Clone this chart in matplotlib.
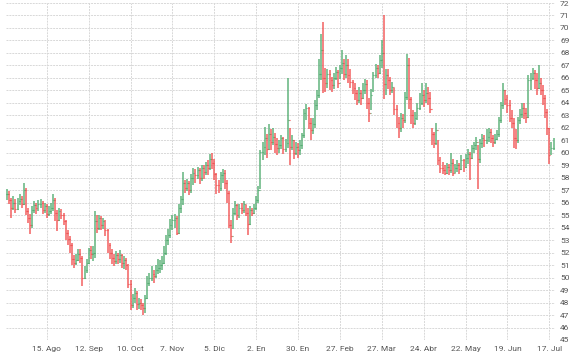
import numpy as np
import matplotlib
matplotlib.use("Agg")
import matplotlib.pyplot as plt

closes = [
    56.7, 56.2, 55.6, 56.0, 55.5,  56.1, 56.3, 55.9, 57.0, 55.3,
    54.8, 54.2, 55.4, 55.8, 55.6,  55.9, 56.0, 55.4, 55.7, 55.1,
    55.3, 55.6, 56.2, 55.2, 54.6,  55.3, 55.0, 54.5, 53.6, 53.1,
    52.6, 51.5, 51.2, 51.4, 51.9,  51.6, 50.0, 50.6, 51.2, 52.2,
    51.9, 52.0, 54.5, 54.0, 54.8,  54.2, 54.5, 53.8, 52.6, 52.0,
    51.6, 51.3, 51.8, 51.5, 51.8,  51.2, 51.4, 51.0, 49.5, 47.8,
    48.4, 48.8, 47.9, 48.0, 47.8,  47.6, 48.4, 49.6, 50.0, 50.3,
    50.1, 50.6, 50.8, 51.0, 51.2,  52.0, 53.0, 53.4, 54.2, 54.6,
    54.8, 53.6, 55.6, 56.3, 57.6,  57.2, 57.6, 57.0, 58.0, 58.4,
    58.2, 58.6, 58.0, 58.8, 58.5,  59.0, 58.8, 59.5, 59.2, 58.3,
    57.4, 57.2, 58.2, 58.4, 57.6,  56.8, 54.2, 53.3, 55.2, 55.8,
    55.0, 55.6, 55.4, 55.9, 55.2,  54.3, 55.4, 55.2, 55.6, 56.2,
    57.0, 60.1, 60.5, 61.2, 60.3,  61.5, 60.9, 61.3, 60.7, 60.4,
    60.6, 61.2, 60.3, 60.8, 62.6,  60.5, 61.0, 60.0, 60.5, 60.2,
    60.6, 61.4, 63.2, 63.6, 62.4,  61.8, 62.3, 63.8, 64.6, 66.3,
    68.2, 66.0, 65.6, 66.3, 65.8,  65.4, 66.0, 66.5, 65.6, 66.8,
    67.2, 66.3, 67.0, 66.2, 65.7,  65.2, 64.8, 64.2, 64.8, 64.4,
    65.0, 65.5, 64.0, 63.2, 64.6,  66.2, 66.8, 66.4, 67.4, 68.0,
    65.5, 66.2, 65.8, 65.0, 65.3,  63.5, 62.4, 62.0, 62.8, 62.6,
    64.5, 67.0, 64.3, 63.0, 62.4,  62.8, 63.6, 64.0, 64.6, 64.2,
    64.8, 64.4, 63.5, 61.5, 60.8,  61.8, 59.4, 58.8, 58.6, 58.4,
    58.9, 58.6, 59.2, 58.4, 58.8,  59.0, 58.7, 59.4, 58.9, 59.6,
    59.9, 59.6, 60.4, 60.6, 60.9,  59.5, 60.8, 61.2, 61.0, 61.3,
    61.7, 61.2, 60.9, 61.1, 61.5,  62.6, 63.8, 65.0, 64.3, 63.8,
    62.8, 62.4, 61.2, 61.0, 62.6,  63.1, 63.6, 63.2, 62.9, 65.8,
    66.0, 66.4, 65.8, 65.2, 65.6,  65.0, 64.4, 63.3, 62.0, 59.8,
    60.4, 61.0,
]
highs = [
    57.1, 56.9, 56.4, 56.5, 56.3,  56.4, 56.7, 56.5, 57.6, 57.2,
    55.6, 55.1, 55.7, 56.1, 56.0,  56.2, 56.3, 56.1, 56.0, 55.9,
    55.7, 56.0, 56.7, 56.4, 55.4,  55.6, 55.5, 55.2, 54.6, 53.8,
    53.3, 52.8, 51.8, 51.9, 52.3,  52.3, 51.7, 50.9, 51.5, 52.4,
    52.5, 52.5, 55.3, 55.0, 55.0,  54.9, 54.8, 54.6, 53.9, 52.8,
    52.3, 51.9, 52.1, 52.0, 52.2,  51.9, 51.7, 51.6, 51.1, 49.8,
    48.7, 49.2, 48.9, 48.4, 48.3,  48.0, 48.6, 50.1, 50.4, 50.9,
    50.6, 51.0, 51.5, 51.4, 51.7,  52.5, 53.4, 53.9, 54.7, 55.0,
    55.1, 54.9, 55.9, 56.5, 58.5,  57.8, 57.9, 57.7, 58.3, 58.8,
    58.7, 58.9, 58.8, 59.0, 59.0,  59.3, 59.4, 59.9, 60.0, 59.5,
    58.4, 57.8, 58.5, 58.7, 58.6,  57.8, 56.9, 54.6, 55.6, 56.1,
    55.9, 55.9, 56.0, 56.1, 55.8,  55.6, 55.7, 55.6, 55.9, 56.5,
    57.3, 60.2, 60.9, 62.1, 61.5,  62.3, 61.9, 62.0, 61.6, 61.2,
    61.0, 61.4, 61.3, 61.1, 66.0,  62.0, 61.4, 61.0, 60.9, 60.8,
    61.0, 61.6, 63.5, 63.9, 63.7,  62.8, 62.8, 64.2, 65.0, 67.5,
    69.5, 70.5, 66.8, 66.7, 66.6,  66.1, 66.4, 66.9, 66.6, 67.0,
    68.2, 67.5, 67.8, 67.5, 66.7,  65.8, 65.6, 65.0, 65.3, 65.0,
    65.6, 65.9, 65.8, 64.4, 65.1,  66.5, 67.1, 67.0, 67.8, 69.0,
    71.0, 66.7, 66.7, 66.1, 65.7,  65.2, 63.8, 62.9, 63.2, 63.1,
    64.9, 67.9, 67.6, 64.5, 63.4,  63.3, 64.0, 64.8, 65.6, 65.0,
    65.6, 65.3, 64.9, 62.0, 61.7,  62.4, 61.0, 59.7, 59.3, 59.0,
    59.2, 59.1, 60.0, 59.5, 59.1,  59.4, 59.2, 59.8, 59.5, 59.9,
    60.3, 60.1, 60.6, 60.9, 61.3,  60.6, 61.1, 61.5, 61.4, 61.9,
    62.0, 61.9, 61.4, 61.5, 61.8,  62.9, 64.1, 65.6, 65.0, 64.6,
    64.2, 63.4, 62.8, 61.9, 62.9,  63.5, 64.0, 64.0, 63.6, 66.2,
    66.4, 66.8, 66.6, 66.4, 67.0,  66.0, 65.4, 64.6, 63.5, 62.0,
    60.9, 61.2,
]
lows = [
    56.2, 55.9, 54.8, 55.4, 55.2,  55.4, 55.8, 55.6, 55.8, 55.0,
    54.4, 53.5, 54.0, 55.2, 55.1,  55.3, 55.6, 55.1, 55.2, 54.8,
    54.9, 55.1, 55.3, 54.5, 53.7,  54.5, 54.7, 54.2, 53.0, 52.6,
    52.0, 51.0, 50.8, 51.0, 51.3,  51.2, 49.3, 49.9, 50.4, 51.1,
    51.5, 51.3, 51.6, 53.6, 53.8,  53.8, 53.9, 53.3, 52.0, 51.5,
    51.1, 50.9, 51.1, 51.1, 51.2,  50.8, 50.7, 50.6, 49.2, 47.4,
    47.6, 48.0, 47.4, 47.5, 47.4,  47.0, 47.2, 48.3, 49.3, 49.7,
    49.6, 50.0, 50.3, 50.4, 50.6,  51.1, 51.8, 52.6, 53.2, 53.8,
    54.0, 53.4, 53.5, 55.2, 55.8,  56.8, 56.9, 56.6, 56.8, 57.4,
    57.6, 57.9, 57.5, 57.7, 57.9,  58.2, 58.2, 58.6, 58.7, 57.8,
    56.7, 56.8, 56.9, 57.6, 57.1,  56.0, 54.0, 52.8, 53.9, 55.0,
    54.6, 54.8, 55.1, 55.2, 54.9,  53.4, 54.2, 54.9, 55.1, 55.4,
    56.0, 57.1, 59.4, 59.8, 59.6,  60.2, 60.2, 60.6, 60.0, 59.8,
    60.0, 60.3, 59.9, 60.1, 60.4,  59.0, 60.2, 59.5, 59.8, 59.6,
    59.8, 60.3, 61.2, 62.6, 61.9,  61.0, 61.5, 62.0, 63.4, 64.4,
    65.8, 64.8, 64.9, 65.2, 65.0,  64.9, 65.1, 65.8, 65.2, 65.9,
    66.3, 65.8, 66.0, 65.6, 65.2,  64.7, 64.2, 63.8, 64.0, 63.8,
    64.3, 64.7, 63.5, 62.5, 63.4,  64.9, 66.0, 66.0, 66.3, 66.8,
    64.3, 64.6, 65.1, 64.6, 64.8,  63.0, 62.0, 61.2, 61.7, 62.0,
    62.4, 64.2, 63.5, 62.3, 62.0,  62.2, 62.6, 63.4, 63.8, 63.7,
    64.0, 63.8, 63.2, 60.6, 60.4,  60.6, 59.0, 58.4, 58.3, 58.2,
    58.3, 58.2, 58.4, 58.1, 58.4,  58.5, 58.3, 58.6, 58.5, 58.8,
    59.1, 57.8, 59.5, 60.0, 60.2,  57.1, 59.2, 60.4, 60.5, 60.7,
    60.9, 60.8, 60.5, 60.7, 61.0,  61.3, 62.4, 63.5, 63.8, 63.2,
    62.5, 62.0, 60.4, 60.3, 60.8,  62.3, 62.8, 62.7, 62.4, 62.8,
    65.0, 65.8, 65.1, 64.6, 65.1,  64.6, 63.8, 62.8, 61.4, 59.1,
    59.8, 60.2,
]
# apertura = cierre del dia anterior
opens = [closes[0]] + closes[:-1]

tick_labels = ["15. Ago", "12. Sep", "10. Oct", "7. Nov", "5. Dic", "2. En",
               "30. En", "27. Feb", "27. Mar", "24. Abr", "22. May", "19. Jun",
               "17. Jul"]
tick_idx = [19 + 20 * k for k in range(len(tick_labels))]

x = np.arange(len(closes))
o = np.array(opens)
c = np.array(closes)
up = c >= o

GREEN = "#4aa86a"
RED = "#f04848"

fig = plt.figure(figsize=(5.77, 3.55), dpi=100)
ax = fig.add_axes([6 / 577, 15 / 355, 548.6 / 577, 337 / 355])

colors = np.where(up, GREEN, RED)
ax.vlines(x, lows, highs, colors=colors, linewidth=1.2, alpha=0.8, zorder=3)
ax.hlines(o, x - 0.45, x, colors=colors, linewidth=0.8, zorder=4)
ax.hlines(c, x, x + 0.45, colors=colors, linewidth=0.8, zorder=4)

ax.set_xlim(-0.5, len(closes) - 0.5)
ax.set_ylim(45, 72)
ax.set_yticks(range(45, 73))
ax.set_xticks(tick_idx)
ax.set_xticklabels(tick_labels)

ax.yaxis.tick_right()
ax.tick_params(axis="both", length=0, labelsize=6, labelcolor="#555555")
ax.tick_params(axis="y", pad=4)
ax.tick_params(axis="x", pad=4)
for lab in ax.get_xticklabels() + ax.get_yticklabels():
    lab.set_family("Roboto")

ax.grid(True, color="#d8d8d8", linewidth=0.7, linestyle=(0, (2, 1)), zorder=0)
for s in ax.spines.values():
    s.set_visible(False)

fig.savefig("out.png", dpi=100)
